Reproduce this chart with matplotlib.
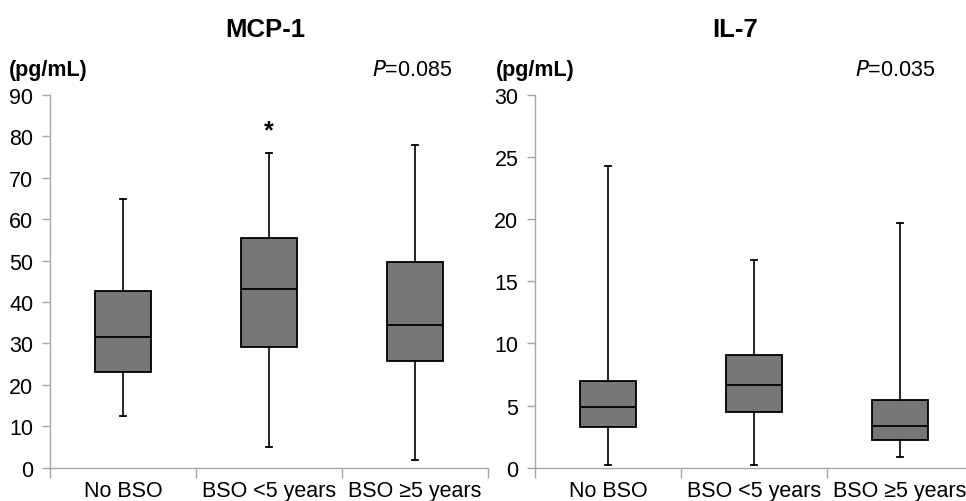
import matplotlib
matplotlib.use("Agg")
import matplotlib.pyplot as plt
from matplotlib.ticker import FixedLocator

plt.rcParams['font.family'] = ['Liberation Sans', 'DejaVu Sans']

categories = ["No BSO", "BSO <5 years", "BSO \u22655 years"]

# MCP-1 (pg/mL): whislo, q1, med, q3, whishi
mcp_low = [12.4, 5.0, 1.9]
mcp_q1 = [23.0, 29.1, 25.7]
mcp_med = [31.5, 43.1, 34.4]
mcp_q3 = [42.6, 55.5, 49.6]
mcp_high = [64.9, 75.9, 77.9]

# IL-7 (pg/mL)
il_low = [0.2, 0.2, 0.89]
il_q1 = [3.3, 4.48, 2.23]
il_med = [4.86, 6.66, 3.38]
il_q3 = [7.0, 9.05, 5.47]
il_high = [24.3, 16.75, 19.7]

titles = ["MCP-1", "IL-7"]
pvals = ["0.085", "0.035"]
ymax = [90, 30]
ystep = [10, 5]

fs = 15.5

fig = plt.figure(figsize=(9.66, 5.02), dpi=100)
axes_pos = [[50/966, 1-468.7/502, 438/966, (468.7-96)/502],
            [535/966, 1-468.7/502, 438/966, (468.7-96)/502]]

datasets = [(mcp_low, mcp_q1, mcp_med, mcp_q3, mcp_high),
            (il_low, il_q1, il_med, il_q3, il_high)]

gray = "#a6a6a6"
for i, (pos, d) in enumerate(zip(axes_pos, datasets)):
    ax = fig.add_axes(pos)
    stats = []
    for k in range(3):
        stats.append(dict(whislo=d[0][k], q1=d[1][k], med=d[2][k], q3=d[3][k],
                          whishi=d[4][k], fliers=[], label=categories[k]))
    ax.bxp(stats, positions=[1, 2, 3], widths=0.39, patch_artist=True,
           showfliers=False, capwidths=0.04,
           boxprops=dict(facecolor="#777777", edgecolor="black", linewidth=1.3),
           medianprops=dict(color="black", linewidth=1.3),
           whiskerprops=dict(color="black", linewidth=1.2),
           capprops=dict(color="black", linewidth=1.3))
    ax.set_xlim(0.5, 3.5)
    ax.set_ylim(0, ymax[i])
    ax.set_yticks(range(0, ymax[i] + 1, ystep[i]))
    ax.set_xticks([1, 2, 3])
    ax.set_xticklabels(categories, fontsize=fs)
    ax.xaxis.set_minor_locator(FixedLocator([0.5, 1.5, 2.5, 3.5]))
    ax.tick_params(axis='x', which='major', length=0, pad=8.5)
    ax.tick_params(axis='x', which='minor', length=7, direction='out', color=gray, width=1)
    ax.tick_params(axis='y', length=6, direction='out', color=gray, width=1, labelsize=fs, pad=6)
    for s in ['top', 'right']:
        ax.spines[s].set_visible(False)
    for s in ['left', 'bottom']:
        ax.spines[s].set_color(gray)
        ax.spines[s].set_linewidth(1)

    if i == 0:
        ax.text(2, 81.5, "*", ha='center', va='center', fontsize=18, fontweight='bold')

fig.text(265/966, 1-37/502, titles[0], ha='center', va='baseline', fontsize=18.5,
         fontweight='bold')
fig.text(735/966, 1-37/502, titles[1], ha='center', va='baseline', fontsize=18.5,
         fontweight='bold')
for x in [9, 496]:
    fig.text(x/966, 1-76/502, "(pg/mL)", ha='left', va='baseline', fontsize=fs,
             fontweight='bold')
for x, p in zip([452, 935], pvals):
    fig.text(x/966, 1-76/502, r"$\it{P}$" + "=" + p, ha='right', va='baseline', fontsize=fs)

fig.savefig("out.png", dpi=100)
